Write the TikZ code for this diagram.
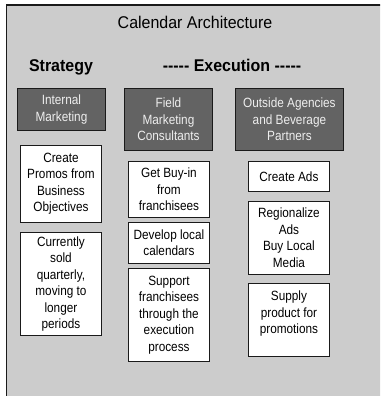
\documentclass[tikz,border=0pt]{standalone}
\usepackage{fontspec}
\setmainfont{Liberation Sans}[FakeStretch=0.94]
\newfontfamily\boxfont{Liberation Sans}[FakeStretch=0.88]
\definecolor{panel}{HTML}{CCCCCC}
\definecolor{darkbox}{HTML}{636363}
\definecolor{darktext}{HTML}{EEEEEE}
\definecolor{edge}{HTML}{1A1A1A}
\newcommand{\dashrun}{{-}{-}{-}{-}{-}}
\begin{document}
\begin{tikzpicture}[x=1pt,y=-1pt,
  boxtext/.style={font=\boxfont\fontsize{13.4}{16.5}\selectfont, align=center, inner sep=1pt},
  headbox/.style={boxtext, draw=edge, line width=0.9pt, fill=darkbox, text=darktext, anchor=north west},
  taskbox/.style={boxtext, draw=edge, line width=0.9pt, fill=white, text=black, anchor=north west},
  heading/.style={font=\bfseries\fontsize{17}{20}\selectfont, anchor=base, inner sep=0pt}]
  \clip (0,0) rectangle (380,396);
  % background panel
  \draw[edge, line width=1.4pt, fill=panel] (6.5,5) rectangle (390,410);
  % titles
  \node[font=\fontsize{17}{20}\selectfont, anchor=base, inner sep=0pt] (title) at (195,29) {Calendar Architecture};
  \node[heading] (strategy) at (61,71) {Strategy};
  \node[heading] (execution) at (232,71) {\dashrun\ Execution \dashrun};
  % column heads
  \node[headbox, minimum width=88, minimum height=42] (internal) at (17,88) {Internal\\Marketing};
  \node[headbox, minimum width=88, minimum height=62] (field) at (124,88) {Field\\Marketing\\Consultants};
  \node[headbox, minimum width=108, minimum height=62] (outside) at (235,88) {Outside Agencies\\and Beverage\\Partners};
  % strategy tasks
  \node[taskbox, minimum width=81, minimum height=77] (promos) at (20,145) {Create\\Promos from\\Business\\Objectives};
  \node[taskbox, minimum width=81, minimum height=103] (sold) at (20,232) {Currently\\sold\\quarterly,\\moving to\\longer\\periods};
  % field marketing tasks
  \node[taskbox, minimum width=81, minimum height=56] (buyin) at (128,161) {Get Buy-in\\from\\franchisees};
  \node[taskbox, minimum width=81, minimum height=41] (develop) at (128,222) {Develop local\\calendars};
  \node[taskbox, minimum width=81, minimum height=93] (support) at (128,268) {Support\\franchisees\\through the\\execution\\process};
  % agency tasks
  \node[taskbox, minimum width=81, minimum height=30] (ads) at (248,161) {Create Ads};
  \node[taskbox, minimum width=81, minimum height=73] (region) at (248,201) {Regionalize\\Ads\\Buy Local\\Media};
  \node[taskbox, minimum width=81, minimum height=73] (supply) at (248,283) {};
  \node[boxtext] (supplytext) at ([yshift=6pt]supply.center) {Supply\\product for\\promotions};
\end{tikzpicture}
\end{document}
